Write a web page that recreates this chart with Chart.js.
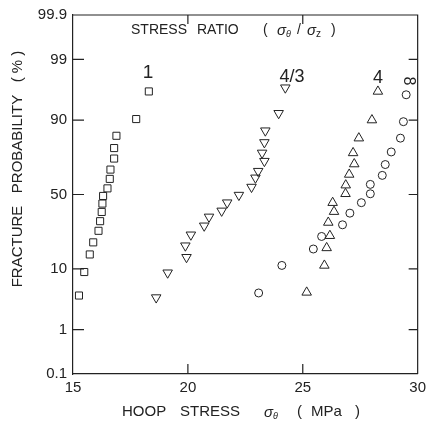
<!DOCTYPE html>
<html>
<head>
<meta charset="utf-8">
<script src="https://cdn.jsdelivr.net/npm/chart.js@4.4.1/dist/chart.umd.min.js"></script>
<style>
  html, body { margin: 0; padding: 0; background: #fff; }
  #wrap { width: 431px; height: 428px; position: relative; }
</style>
</head>
<body>
<div id="wrap"><canvas id="chart"></canvas></div>
<script>
// stress ratio 1 (squares)
const stress1 = [18.30, 17.75, 16.89, 16.79, 16.79, 16.63, 16.60, 16.50, 16.31, 16.28, 16.25, 16.18, 16.11, 15.88, 15.73, 15.49, 15.26];
const prob1   = [96.2, 90.3, 84.4, 78.8, 73.2, 66.6, 60.6, 54.2, 49.0, 43.8, 38.2, 32.3, 26.6, 20.5, 15.1, 9.1, 4.1];

// stress ratio 4/3 (inverted triangles)
const stress43 = [24.24, 23.95, 23.37, 23.33, 23.23, 23.33, 23.06, 22.94, 22.77, 22.22, 21.71, 21.47, 20.92, 20.71, 20.13, 19.89, 19.94, 19.12, 18.62];
const prob43   = [96.7, 91.9, 86.4, 81.5, 76.3, 71.7, 65.6, 61.3, 55.1, 49.6, 44.4, 38.9, 35.0, 29.5, 24.4, 18.9, 14.0, 8.9, 3.8];

// stress ratio 4 (triangles)
const stress4 = [28.27, 28.01, 27.44, 27.19, 27.24, 27.02, 26.87, 26.86, 26.30, 26.36, 26.11, 26.18, 26.04, 25.94, 25.17];
const prob4   = [96.2, 90.0, 83.4, 76.3, 70.0, 63.5, 56.4, 50.5, 44.4, 38.4, 31.5, 23.9, 17.9, 11.1, 4.6];

// stress ratio infinity (circles)
const stressInf = [29.50, 29.38, 29.25, 28.85, 28.59, 28.46, 27.94, 27.94, 27.55, 27.05, 26.73, 25.82, 25.46, 24.09, 23.08];
const probInf   = [95.7, 89.5, 83.4, 76.8, 69.7, 62.9, 56.9, 50.5, 44.4, 37.4, 30.1, 23.5, 17.4, 11.1, 4.5];

// axis ticks
const probTicks = [0.1, 1, 10, 50, 90, 99, 99.9];
const probTickLabels = ['0.1', '1', '10', '50', '90', '99', '99.9'];
const stressTicks = [15, 20, 25, 30];

// inverse normal cdf (Acklam) -> probability paper scale
function probit(p) {
  const a = [-3.969683028665376e+01, 2.209460984245205e+02, -2.759285104469687e+02, 1.383577518672690e+02, -3.066479806614716e+01, 2.506628277459239e+00];
  const b = [-5.447609879822406e+01, 1.615858368580409e+02, -1.556989798598866e+02, 6.680131188771972e+01, -1.328068115201924e+01];
  const c = [-7.784894002430293e-03, -3.223964580411365e-01, -2.400758296719762e+00, -2.549732539343734e+00, 4.374664141464968e+00, 2.938163982698783e+00];
  const d = [7.784695709041462e-03, 3.224671290700398e-01, 2.445134137143946e+00, 3.754408661907416e+00];
  const plow = 0.02425;
  let q, r;
  if (p < plow) {
    q = Math.sqrt(-2 * Math.log(p));
    return (((((c[0]*q+c[1])*q+c[2])*q+c[3])*q+c[4])*q+c[5]) / ((((d[0]*q+d[1])*q+d[2])*q+d[3])*q+1);
  }
  if (p <= 1 - plow) {
    q = p - 0.5; r = q * q;
    return (((((a[0]*r+a[1])*r+a[2])*r+a[3])*r+a[4])*r+a[5])*q / (((((b[0]*r+b[1])*r+b[2])*r+b[3])*r+b[4])*r+1);
  }
  q = Math.sqrt(-2 * Math.log(1 - p));
  return -(((((c[0]*q+c[1])*q+c[2])*q+c[3])*q+c[4])*q+c[5]) / ((((d[0]*q+d[1])*q+d[2])*q+d[3])*q+1);
}

const toPoints = (xs, ps) => xs.map((x, i) => ({ x: x, y: probit(ps[i] / 100) }));

const INK = '#222';
const FONT = '"Liberation Sans", Arial, sans-serif';

function series(label, xs, ps, style, radius, rotation) {
  return {
    label: label,
    data: toPoints(xs, ps),
    pointStyle: style,
    pointRadius: radius,
    pointHoverRadius: radius,
    pointRotation: rotation || 0,
    pointBorderColor: INK,
    pointBackgroundColor: 'rgba(255,255,255,0)',
    pointBorderWidth: 1,
    showLine: false
  };
}

// text piece starting at x (left aligned)
function put(ctx, s, x, y, size, italic) {
  ctx.font = (italic ? 'italic ' : '') + size + 'px ' + FONT;
  ctx.fillText(s, x, y);
}

const decorations = {
  id: 'decorations',
  afterDraw(chart) {
    const ctx = chart.ctx;
    const area = chart.chartArea;
    const xs = chart.scales.x, ys = chart.scales.y;
    ctx.save();
    ctx.strokeStyle = INK;
    ctx.lineWidth = 1.2;
    // frame top/right
    ctx.beginPath();
    ctx.moveTo(area.left, area.top); ctx.lineTo(area.right, area.top); ctx.lineTo(area.right, area.bottom);
    ctx.stroke();
    // inward ticks
    ctx.beginPath();
    probTicks.slice(1, -1).forEach(p => {
      const py = ys.getPixelForValue(probit(p / 100));
      ctx.moveTo(area.left, py); ctx.lineTo(area.left + 11, py);
      ctx.moveTo(area.right, py); ctx.lineTo(area.right - 9, py);
    });
    stressTicks.slice(1, -1).forEach(s => {
      const px = xs.getPixelForValue(s);
      ctx.moveTo(px, area.bottom); ctx.lineTo(px, area.bottom - 10);
      ctx.moveTo(px, area.top); ctx.lineTo(px, area.top + 9);
    });
    ctx.stroke();

    ctx.fillStyle = INK;
    ctx.textBaseline = 'middle';
    ctx.textAlign = 'left';
    // x title
    put(ctx, 'HOOP', 122, 412, 15);
    put(ctx, 'STRESS', 180, 412, 15);
    put(ctx, 'σ', 264, 413, 15, true);
    put(ctx, 'θ', 273, 416, 9, true);
    put(ctx, '(', 297, 412, 15);
    put(ctx, 'MPa', 311, 412, 15);
    put(ctx, ')', 355, 412, 15);
    // legend title
    put(ctx, 'STRESS', 131, 30, 14);
    put(ctx, 'RATIO', 197, 30, 14);
    put(ctx, '(', 263, 30, 14);
    put(ctx, 'σ', 277, 31, 15, true);
    put(ctx, 'θ', 286, 34, 9, true);
    put(ctx, '/', 297, 30, 14);
    put(ctx, 'σ', 307, 31, 15, true);
    put(ctx, 'z', 316, 34, 10);
    put(ctx, ')', 331, 30, 14);
    // series labels
    ctx.textAlign = 'center';
    put(ctx, '1', 148, 73, 19);
    put(ctx, '4/3', 292, 77, 18);
    put(ctx, '4', 378, 78, 18);
    ctx.save();
    ctx.translate(408, 81);
    ctx.rotate(Math.PI / 2);
    put(ctx, '8', 0, 0, 16);
    ctx.restore();
    // y title
    ctx.save();
    ctx.translate(18, 169);
    ctx.rotate(-Math.PI / 2);
    put(ctx, 'FRACTURE   PROBABILITY   ( % )', 0, 0, 15);
    ctx.restore();
    ctx.restore();
  }
};

new Chart(document.getElementById('chart'), {
  type: 'scatter',
  data: {
    datasets: [
      series('1', stress1, prob1, 'rect', 5),
      series('4/3', stress43, prob43, 'triangle', 5.5, 180),
      series('4', stress4, prob4, 'triangle', 5.5),
      series('∞', stressInf, probInf, 'circle', 4)
    ]
  },
  options: {
    responsive: true,
    maintainAspectRatio: false,
    animation: false,
    layout: { padding: { top: 13, right: 11, bottom: 0, left: 0 } },
    plugins: { legend: { display: false }, tooltip: { enabled: false } },
    scales: {
      x: {
        type: 'linear',
        min: 15, max: 30,
        afterBuildTicks: s => { s.ticks = stressTicks.map(v => ({ value: v })); },
        afterFit: s => { s.height = 54; },
        grid: { display: false, drawTicks: false },
        border: { color: INK, width: 1.2 },
        ticks: { color: INK, padding: 5, font: { family: FONT, size: 15 }, autoSkip: false, maxRotation: 0 }
      },
      y: {
        type: 'linear',
        min: probit(0.001), max: probit(0.999),
        afterBuildTicks: s => { s.ticks = probTicks.map(p => ({ value: probit(p / 100) })); },
        afterFit: s => { s.width = 73; },
        grid: { display: false, drawTicks: false },
        border: { color: INK, width: 1.2 },
        ticks: {
          color: INK, padding: 6, autoSkip: false,
          font: { family: FONT, size: 15 },
          callback: (v, i) => probTickLabels[i]
        }
      }
    }
  },
  plugins: [decorations]
});
</script>
</body>
</html>
